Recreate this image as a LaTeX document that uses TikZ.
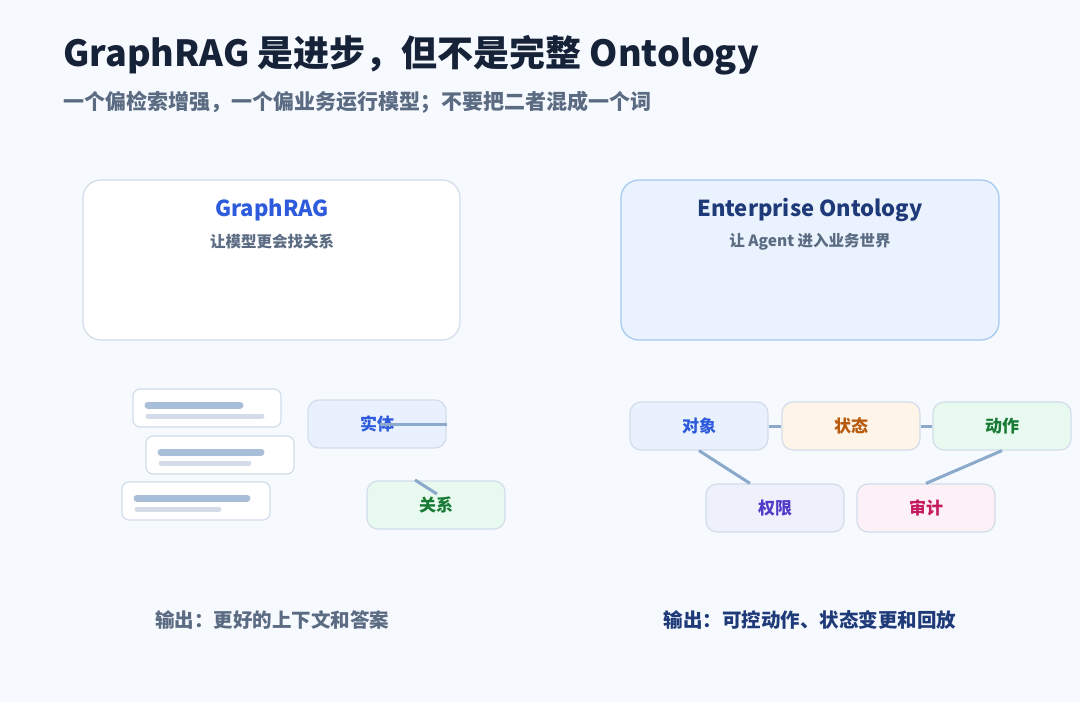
\documentclass[tikz,border=0pt]{standalone}
\usepackage{fontspec}
\setmainfont{Noto Sans CJK SC}
\definecolor{bgc}{HTML}{F6F9FE}
\definecolor{ink}{HTML}{152238}
\definecolor{sub}{HTML}{5A6B82}
\definecolor{edge}{HTML}{D2DDEC}
\definecolor{link}{HTML}{8AA9CB}
\definecolor{barA}{HTML}{A9BED8}
\definecolor{barB}{HTML}{D3DCE8}
\definecolor{ontofill}{HTML}{EAF2FE}
\definecolor{ontoedge}{HTML}{A3C8F2}
\definecolor{blueT}{HTML}{2D5BDB}
\definecolor{navyT}{HTML}{1E3A78}
\definecolor{blueF}{HTML}{E9F1FE}
\definecolor{greenF}{HTML}{E8FAEF}
\definecolor{greenT}{HTML}{187A34}
\definecolor{orangeF}{HTML}{FFF4E8}
\definecolor{orangeT}{HTML}{B75A0E}
\definecolor{violetF}{HTML}{EEF1FC}
\definecolor{violetT}{HTML}{4F3CC9}
\definecolor{pinkF}{HTML}{FDF0F6}
\definecolor{pinkT}{HTML}{C41C5E}
\tikzset{
  pill/.style={draw=edge, line width=1.2pt, rounded corners=11pt, minimum width=138pt, minimum height=48pt, font=\bfseries\fontsize{17}{19}\selectfont},
  card/.style={draw=edge, line width=1.2pt, rounded corners=18pt, fill=white},
  doc/.style={draw=edge, line width=1.2pt, rounded corners=7pt, fill=white},
  wire/.style={draw=link, line width=3pt},
}
\begin{document}
\begin{tikzpicture}[x=1pt,y=-1pt]
      \fill[bgc] (0,0) rectangle (1080,702);
      \useasboundingbox (0,0) rectangle (1080,702);
      % heading
      \node[anchor=west, text=ink, font=\bfseries\fontsize{36}{40}\selectfont] (title) at (60,55) {GraphRAG 是进步，但不是完整 Ontology};
      \node[anchor=west, text=sub, font=\bfseries\fontsize{21}{23}\selectfont] (lead) at (60,102) {一个偏检索增强，一个偏业务运行模型；不要把二者混成一个词};
      % two cards
      \draw[card] (83,180) rectangle (460,340);
      \draw[card, fill=ontofill, draw=ontoedge] (621,180) rectangle (999,340);
      \node[text=blueT, font=\bfseries\fontsize{22}{24}\selectfont] (rag) at (272,210) {GraphRAG};
      \node[text=sub, font=\bfseries\fontsize{15.5}{17}\selectfont] (ragsub) at (272,242) {让模型更会找关系};
      \node[text=navyT, font=\bfseries\fontsize{22}{24}\selectfont] (onto) at (810,210) {Enterprise Ontology};
      \node[text=sub, font=\bfseries\fontsize{15.5}{17}\selectfont] (ontosub) at (810,242) {让 Agent 进入业务世界};
      % documents
      \foreach \x/\y/\a/\b in {133/389/92/114, 146/436/100/88, 122/482/110/82}{
        \draw[doc] (\x,\y) rectangle ++(148,38);
        \draw[barA, line width=7pt, line cap=round] (\x+15,\y+16) -- ++(\a,0);
        \draw[barB, line width=5pt, line cap=round] (\x+15,\y+27) -- ++(\b,0);
      }
      % graph on the left
      \node[pill, fill=blueF, text=blueT] (entity) at (377,424) {实体};
      \node[pill, fill=greenF, text=greenT] (rel) at (436,505) {关系};
      \coordinate (hub) at (380,424);
      \coordinate (tick) at (415,480);
      \draw[wire] (hub) -- (entity.east);
      \draw[wire] (tick) -- ++(22,14);
      % graph on the right
      \node[pill, fill=blueF, text=blueT] (obj) at (699,426) {对象};
      \node[pill, fill=orangeF, text=orangeT] (state) at (851,426) {状态};
      \node[pill, fill=greenF, text=greenT] (act) at (1002,426) {动作};
      \node[pill, fill=violetF, text=violetT] (perm) at (775,508) {权限};
      \node[pill, fill=pinkF, text=pinkT] (audit) at (926,508) {审计};
      \draw[wire] (obj.east) -- (state.west);
      \draw[wire] (state.east) -- (act.west);
      \draw[wire] (obj.south) -- ([xshift=-25pt]perm.north);
      \draw[wire] (act.south) -- (audit.north);
      % outputs
      \node[text=sub, font=\bfseries\fontsize{19.5}{21}\selectfont] (outl) at (272,620) {输出：更好的上下文和答案};
      \node[text=navyT, font=\bfseries\fontsize{19.5}{21}\selectfont] (outr) at (810,620) {输出：可控动作、状态变更和回放};
\end{tikzpicture}
\end{document}
